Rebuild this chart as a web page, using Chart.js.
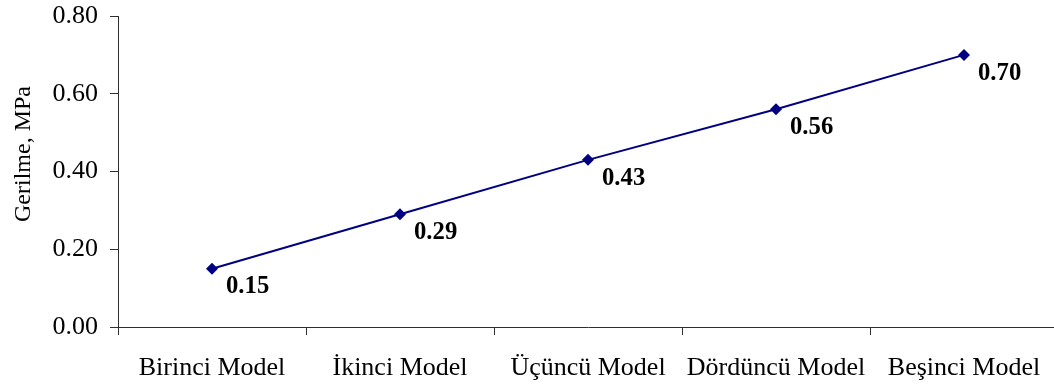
<!DOCTYPE html>
<html>
<head>
<meta charset="utf-8">
<script src="https://cdn.jsdelivr.net/npm/chart.js@4/dist/chart.umd.min.js"></script>
<style>
  html, body { margin: 0; padding: 0; background: #fff; overflow: hidden; }
  #wrap { width: 1054px; height: 386px; overflow: hidden; }
  canvas { display: block; }
</style>
</head>
<body>
<div id="wrap"><canvas id="c" width="1070" height="386"></canvas></div>
<script>
// Stress per model
const categories = ["Birinci Model", "İkinci Model", "Üçüncü Model", "Dördüncü Model", "Beşinci Model"];
const stress = [0.15, 0.29, 0.43, 0.56, 0.70];
const yTicks = [0.00, 0.20, 0.40, 0.60, 0.80];
const yTitle = "Gerilme, MPa";

const SERIF = "'Liberation Serif', 'Times New Roman', serif";
const NAVY = "#000080";
const AXIS = "#303030";

// Bold value labels to the lower right of each marker
const valueLabels = {
  id: "valueLabels",
  afterDatasetsDraw(chart) {
    const ctx = chart.ctx;
    const meta = chart.getDatasetMeta(0);
    ctx.save();
    ctx.font = "bold 26px " + SERIF;
    ctx.fillStyle = "#000";
    ctx.textAlign = "left";
    ctx.textBaseline = "middle";
    meta.data.forEach((pt, i) => {
      ctx.save();
      ctx.translate(pt.x + 14, pt.y + 18);
      ctx.scale(0.95, 1);
      ctx.fillText(stress[i].toFixed(2), 0, 0);
      ctx.restore();
    });
    ctx.restore();
  }
};

// Rotated y-axis title
const axisTitle = {
  id: "axisTitle",
  afterDraw(chart) {
    const ctx = chart.ctx;
    ctx.save();
    ctx.translate(24, 154);
    ctx.rotate(-Math.PI / 2);
    ctx.font = "24px " + SERIF;
    ctx.fillStyle = "#000";
    ctx.textAlign = "center";
    ctx.textBaseline = "middle";
    ctx.fillText(yTitle, 0, 0);
    ctx.restore();
  }
};

new Chart(document.getElementById("c"), {
  type: "line",
  data: {
    labels: categories,
    datasets: [{
      data: stress,
      borderColor: NAVY,
      backgroundColor: NAVY,
      borderWidth: 2,
      pointStyle: "rectRot",
      pointRadius: 6,
      pointHoverRadius: 6,
      pointBackgroundColor: NAVY,
      pointBorderColor: NAVY,
      pointBorderWidth: 0,
      tension: 0
    }]
  },
  options: {
    responsive: false,
    animation: false,
    events: [],
    layout: { padding: { top: 16, right: 12, bottom: 0, left: 0 } },
    plugins: {
      legend: { display: false },
      tooltip: { enabled: false }
    },
    scales: {
      x: {
        type: "category",
        offset: true,
        afterFit(scale) { scale.height = 59; },
        grid: {
          offset: true,
          drawOnChartArea: false,
          drawTicks: true,
          tickLength: 8,
          color: AXIS,
          tickColor: AXIS
        },
        border: { display: true, color: AXIS, width: 1 },
        ticks: {
          color: "#000",
          font: { family: SERIF, size: 26 },
          padding: 18,
          maxRotation: 0,
          autoSkip: false
        }
      },
      y: {
        min: 0,
        max: 0.8,
        afterFit(scale) {
          scale.width = 118;
          scale.paddingTop = 0;
          scale.paddingBottom = 0;
        },
        afterBuildTicks(scale) { scale.ticks = yTicks.map(v => ({ value: v })); },
        grid: {
          drawOnChartArea: false,
          drawTicks: true,
          tickLength: 8,
          color: AXIS,
          tickColor: AXIS
        },
        border: { display: true, color: AXIS, width: 1 },
        ticks: {
          color: "#000",
          font: { family: SERIF, size: 26 },
          padding: 12,
          callback: v => Number(v).toFixed(2)
        }
      }
    }
  },
  plugins: [valueLabels, axisTitle]
});
</script>
</body>
</html>
